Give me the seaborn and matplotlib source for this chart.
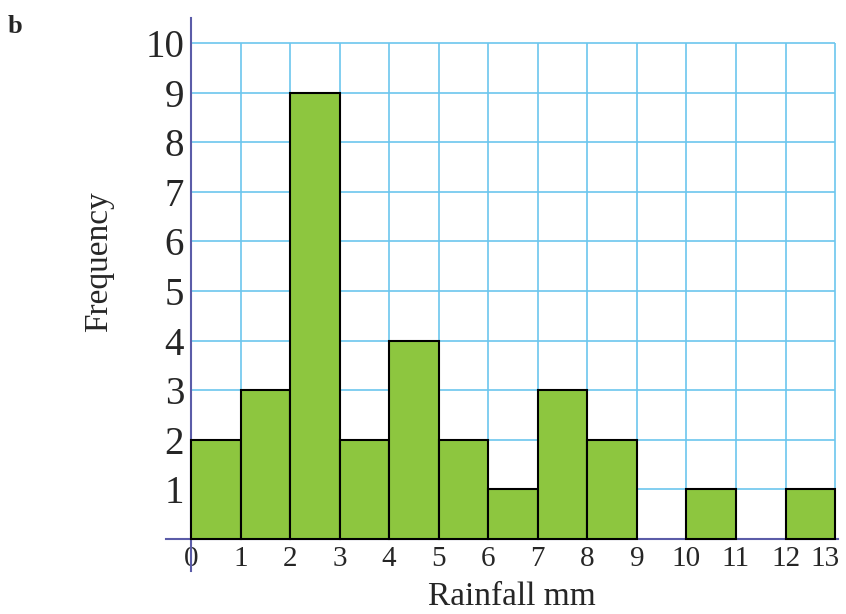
import matplotlib
matplotlib.use("Agg")
import matplotlib.pyplot as plt
import matplotlib.transforms as mtransforms
import seaborn as sns
import pandas as pd

# histogram of rainfall, class width 1 mm
bin_edges = list(range(0, 14))
bin_left = list(range(0, 13))
frequency = [2, 3, 9, 2, 4, 2, 1, 3, 2, 0, 1, 0, 1]
x_ticks = list(range(0, 14))
y_ticks = list(range(1, 11))

BAR_GREEN = "#8dc63f"
GRID_BLUE = "#6cc6ee"
AXIS_PURPLE = "#5b5ca8"

sns.set_style("white")
plt.rcParams["font.family"] = ["Liberation Serif", "DejaVu Serif"]

df = pd.DataFrame({"rain": [b + 0.5 for b in bin_left], "freq": frequency})

fig = plt.figure(figsize=(8.46, 6.14), dpi=100)
ax = fig.add_axes([0.1965, 0.0697, 0.7935, 0.9007])

# grid drawn only inside the 0-13 x 0-10 box
ax.hlines(y_ticks, 0, 13, color=GRID_BLUE, lw=1.2, zorder=0)
ax.vlines(x_ticks[1:], 0, 10, color=GRID_BLUE, lw=1.2, zorder=0)

sns.histplot(data=df, x="rain", weights="freq", bins=bin_edges,
             color=BAR_GREEN, alpha=1, edgecolor="black", linewidth=1.5,
             ax=ax, zorder=2)
for p in ax.patches:
    if p.get_height() == 0:
        p.set_visible(False)

ax.set_xlim(-0.5, 13.05)
ax.set_ylim(-0.65, 10.5)

for side in ["top", "right"]:
    ax.spines[side].set_visible(False)
ax.spines["left"].set_position(("data", 0))
ax.spines["bottom"].set_position(("data", 0))
for side in ["left", "bottom"]:
    ax.spines[side].set_color(AXIS_PURPLE)
    ax.spines[side].set_linewidth(1.5)
    ax.spines[side].set_zorder(1)

ax.set_xticks(x_ticks)
ax.set_xticklabels([str(t) for t in x_ticks], fontsize=21)
ax.set_yticks(y_ticks)
ax.set_yticklabels([str(t) for t in y_ticks], fontsize=28)
ax.tick_params(axis="both", length=0)
ax.tick_params(axis="x", pad=5)
ax.tick_params(axis="y", pad=5)

# last x label sits a little to the left so it fits
last = ax.get_xticklabels()[-1]
last.set_transform(last.get_transform() +
                   mtransforms.ScaledTranslation(-7 / 72, 0, fig.dpi_scale_trans))

ax.set_xlabel("Rainfall mm", fontsize=24)
ax.set_ylabel("Frequency", fontsize=24)
ax.xaxis.label.set_va("baseline")
ax.xaxis.set_label_coords(0.515, -0.062)
ax.yaxis.label.set_va("center")
ax.yaxis.set_label_coords(-0.100, 0.559)

fig.text(0.009, 0.975, "b", fontsize=19, fontweight="bold", va="top")

fig.savefig("out.png", dpi=100)
